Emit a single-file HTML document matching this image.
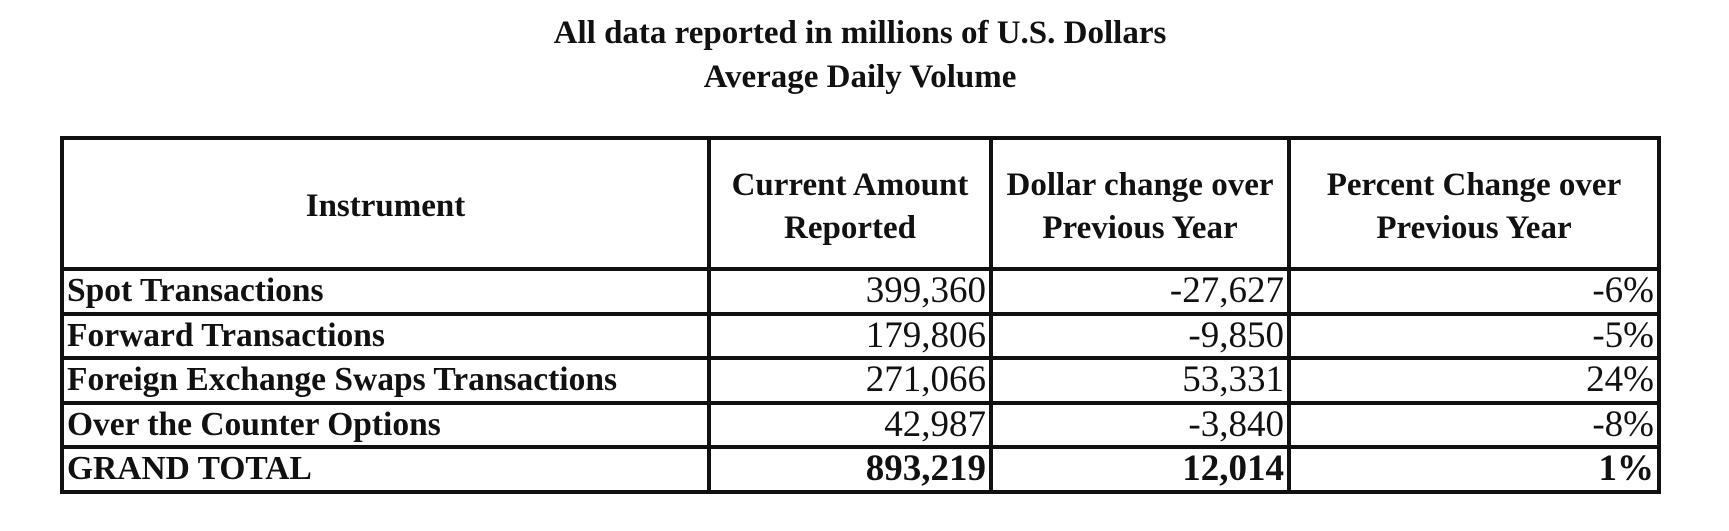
<!DOCTYPE html>
<html><head><meta charset="utf-8"><style>
body{margin:0;width:1729px;height:531px;background:#fff;font-family:"Liberation Serif",serif;color:#111;position:relative;overflow:hidden}
.t{position:absolute;left:0;width:1720px;text-align:center;font-weight:bold;font-size:33px}
table{position:absolute;left:60px;top:136px;width:1597px;border-collapse:collapse;table-layout:fixed}
td{border:4px solid #111;padding:0 4px;white-space:nowrap;line-height:38px;overflow:hidden}
.h td{height:121px;text-align:center;font-weight:bold;font-size:33px;line-height:43px;padding-top:6px}
.r td{height:40.5px;font-size:37px;text-align:right;padding:0 3px;line-height:40px}
.r td:first-child{text-align:left;font-weight:bold;font-size:33.5px}
.b td{font-weight:bold}
</style></head><body>
<div class="t" style="top:15px">All data reported in millions of U.S. Dollars</div>
<div class="t" style="top:59px">Average Daily Volume</div>
<table>
<colgroup><col style="width:647px"><col style="width:282px"><col style="width:298px"><col style="width:370px"></colgroup>
<tr class="h"><td>Instrument</td><td>Current Amount<br>Reported</td><td>Dollar change over<br>Previous Year</td><td>Percent Change over<br>Previous Year</td></tr>
<tr class="r"><td>Spot Transactions</td><td>399,360</td><td>-27,627</td><td>-6%</td></tr>
<tr class="r"><td>Forward Transactions</td><td>179,806</td><td>-9,850</td><td>-5%</td></tr>
<tr class="r"><td>Foreign Exchange Swaps Transactions</td><td>271,066</td><td>53,331</td><td>24%</td></tr>
<tr class="r"><td>Over the Counter Options</td><td>42,987</td><td>-3,840</td><td>-8%</td></tr>
<tr class="r b"><td>GRAND TOTAL</td><td>893,219</td><td>12,014</td><td>1%</td></tr>
</table>
</body></html>
